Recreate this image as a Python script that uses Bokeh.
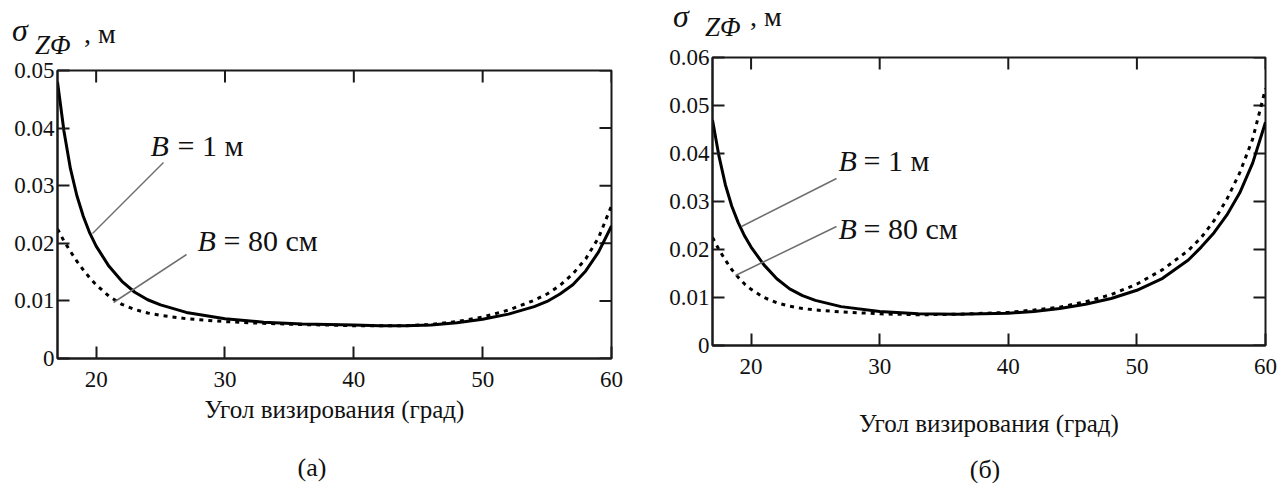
from bokeh.plotting import figure
from bokeh.models import FixedTicker, Label, Div
from bokeh.layouts import row, column
from bokeh.embed import file_html
from bokeh.resources import INLINE

# ---------------- data ----------------
angle = [17, 17.5, 18, 18.5, 19, 19.5, 20, 21, 22, 23, 24, 25, 27, 30, 33, 36,
         40, 42, 44, 46, 48, 50, 52, 54, 55, 56, 57, 58, 59, 60]

# panel (а)
sigma_a_B1m = [0.0480, 0.0395, 0.0330, 0.0283, 0.0247, 0.0218, 0.0195, 0.0160, 0.0134,
               0.0115, 0.0102, 0.0093, 0.0080, 0.0069, 0.0063, 0.0060, 0.0058, 0.0057,
               0.0057, 0.0058, 0.0062, 0.0068, 0.0077, 0.0090, 0.0099, 0.0112, 0.0128,
               0.0152, 0.0185, 0.0230]
sigma_a_B80 = [0.0225, 0.0204, 0.0186, 0.0169, 0.0154, 0.0140, 0.0128, 0.0108, 0.0094,
               0.0085, 0.0079, 0.0075, 0.0069, 0.0064, 0.0061, 0.0059, 0.0057, 0.0057,
               0.0057, 0.0059, 0.0064, 0.0072, 0.0084, 0.0101, 0.0112, 0.0127, 0.0147,
               0.0173, 0.0210, 0.0265]

# panel (б)
sigma_b_B1m = [0.0470, 0.0395, 0.0335, 0.0290, 0.0256, 0.0228, 0.0205, 0.0168, 0.0139,
               0.0118, 0.0104, 0.0094, 0.0081, 0.0071, 0.0066, 0.0065, 0.0067, 0.0071,
               0.0077, 0.0086, 0.0098, 0.0115, 0.0140, 0.0178, 0.0205, 0.0235, 0.0272,
               0.0318, 0.0380, 0.0465]
sigma_b_B80 = [0.0225, 0.0200, 0.0178, 0.0158, 0.0142, 0.0128, 0.0117, 0.0100, 0.0089,
               0.0082, 0.0077, 0.0074, 0.0070, 0.0066, 0.0064, 0.0065, 0.0069, 0.0074,
               0.0080, 0.0091, 0.0106, 0.0128, 0.0158, 0.0198, 0.0225, 0.0260, 0.0305,
               0.0360, 0.0430, 0.0535]

x_ticks = [20, 30, 40, 50, 60]
y_ticks_a = [0, 0.01, 0.02, 0.03, 0.04, 0.05]
y_ticks_b = [0, 0.01, 0.02, 0.03, 0.04, 0.05, 0.06]
x_label = "Угол визирования (град)"
label_1m = "= 1 м"
label_80 = "= 80 см"
caption_a = "(а)"
caption_b = "(б)"

FONT = "Liberation Serif"
INK = "#1a1a1a"
TXT = "#111111"
LEADER = "#6e6e6e"
BORDER_TOP = 14
BORDER_BOTTOM = 92
FRAME_H = 288
TICK = 12
X0, X1 = 17, 60


def make_panel(xs, y_solid, y_dot, ymax, yticks, geo, ann):
    cl, fl, fr, ftop, cw = geo
    fw = fr - fl
    fbot = ftop + FRAME_H
    p = figure(frame_width=fw, frame_height=FRAME_H,
               min_border_left=fl - cl, min_border_right=cw - (fr - cl),
               min_border_top=BORDER_TOP, min_border_bottom=BORDER_BOTTOM,
               x_range=(X0, X1), y_range=(0, ymax),
               output_backend="svg", toolbar_location=None,
               background_fill_color="white", border_fill_color="white")
    p.grid.visible = False
    p.outline_line_color = INK
    p.outline_line_width = 2

    def px(x):
        return X0 + (x - fl) * (X1 - X0) / fw

    def py(y):
        return (fbot - y) * ymax / FRAME_H

    for ax in (p.xaxis[0], p.yaxis[0]):
        ax.axis_line_color = INK
        ax.axis_line_width = 2
        ax.major_tick_line_color = INK
        ax.major_tick_line_width = 2
        ax.major_tick_in = TICK
        ax.major_tick_out = 0
        ax.minor_tick_line_color = None
        ax.major_label_text_font = FONT
        ax.major_label_text_font_size = "23px"
        ax.major_label_text_color = TXT

    p.xaxis.ticker = FixedTicker(ticks=x_ticks)
    p.xaxis.major_label_standoff = 13
    p.xaxis.axis_label = x_label
    p.xaxis.axis_label_text_font = FONT
    p.xaxis.axis_label_text_font_style = "normal"
    p.xaxis.axis_label_text_font_size = "25px"
    p.xaxis.axis_label_text_color = TXT
    p.xaxis.axis_label_standoff = ann["xlab_standoff"]

    p.yaxis.ticker = FixedTicker(ticks=yticks)
    p.yaxis.major_label_standoff = 3
    p.yaxis.major_label_overrides = {0: "0"}

    # mirrored inward ticks on the right and top edges (derived from the tick lists)
    dx = TICK * (X1 - X0) / fw
    dy = TICK * ymax / FRAME_H
    p.segment(x0=[X1] * len(yticks), y0=yticks, x1=[X1 - dx] * len(yticks), y1=yticks,
              line_color=INK, line_width=2)
    p.segment(x0=x_ticks, y0=[ymax] * len(x_ticks), x1=x_ticks, y1=[ymax - dy] * len(x_ticks),
              line_color=INK, line_width=2)

    # curves
    p.line(xs, y_dot, line_color="black", line_width=3, line_dash="4 5")
    p.line(xs, y_solid, line_color="black", line_width=3)

    # leader lines
    for (x0, y0, x1, y1) in ann["leaders"]:
        p.line([px(x0), px(x1)], [py(y0), py(y1)], line_color=LEADER, line_width=1.5)

    # B = ... labels
    for (bx, by, ex, txt) in ann["blabels"]:
        p.add_layout(Label(x=px(bx), y=py(by), text="B", text_font=FONT,
                           text_font_style="italic", text_font_size="30px",
                           text_baseline="middle", text_align="left", text_color=TXT))
        p.add_layout(Label(x=px(ex), y=py(by), text=txt, text_font=FONT,
                           text_font_size="30px", text_baseline="middle",
                           text_align="left", text_color=TXT))
    return p


def title_div(width, height, sx, sy, zx, zy, mx, my):
    html = (
        f'<div style="position:relative;width:{width}px;height:{height}px;'
        f'font-family:\'{FONT}\';color:{TXT};white-space:nowrap;">'
        f'<span style="position:absolute;left:{sx}px;top:{sy}px;font-style:italic;'
        f'font-size:32px;line-height:1;">σ</span>'
        f'<span style="position:absolute;left:{zx}px;top:{zy}px;font-style:italic;'
        f'font-size:27px;line-height:1;">ZΦ</span>'
        f'<span style="position:absolute;left:{mx}px;top:{my}px;'
        f'font-size:28px;line-height:1;">, м</span>'
        '</div>'
    )
    return Div(text=html, width=width, height=height, margin=(0, 0, 0, 0))


def caption_div(width, height, cx, top, text):
    html = (
        f'<div style="position:relative;width:{width}px;height:{height}px;'
        f'font-family:\'{FONT}\';color:{TXT};">'
        f'<span style="position:absolute;left:{cx - 100}px;width:200px;top:{top}px;'
        f'text-align:center;font-size:26px;line-height:1;">{text}</span>'
        '</div>'
    )
    return Div(text=html, width=width, height=height, margin=(0, 0, 0, 0))


# left panel: column starts at page x 0, frame 57..611, frame top 70
geo_a = (0, 57, 611, 70, 640)
ann_a = dict(
    xlab_standoff=6,
    leaders=[(163, 162, 92, 233), (186, 254, 113, 302)],
    blabels=[(150, 145, 177, label_1m), (197, 240, 223, label_80)],
)
# right panel: column starts at page x 640, frame 712..1265, frame top 57
geo_b = (640, 712, 1265, 57, 638)
ann_b = dict(
    xlab_standoff=33,
    leaders=[(836, 178, 741, 226), (836, 226, 735, 275)],
    blabels=[(838, 160, 863, label_1m), (838, 228, 863, label_80)],
)

pa = make_panel(angle, sigma_a_B1m, sigma_a_B80, 0.05, y_ticks_a, geo_a, ann_a)
pb = make_panel(angle, sigma_b_B1m, sigma_b_B80, 0.06, y_ticks_b, geo_b, ann_b)

top_a = 70 - BORDER_TOP
top_b = 57 - BORDER_TOP
end_a = top_a + BORDER_TOP + FRAME_H + BORDER_BOTTOM
end_b = top_b + BORDER_TOP + FRAME_H + BORDER_BOTTOM
TOTAL_H = 482

ta = title_div(640, top_a, 12, 14, 35, 32, 84, 20)
tb = title_div(638, top_b, 33, 0, 65, 14, 110, 3)
ca = caption_div(640, TOTAL_H - end_a, 312, 455 - end_a, caption_a)
cb = caption_div(638, TOTAL_H - end_b, 345, 455 - end_b, caption_b)

layout = row(column(ta, pa, ca, spacing=0), column(tb, pb, cb, spacing=0), spacing=0)
open("out.html", "w").write(file_html(layout, INLINE))
